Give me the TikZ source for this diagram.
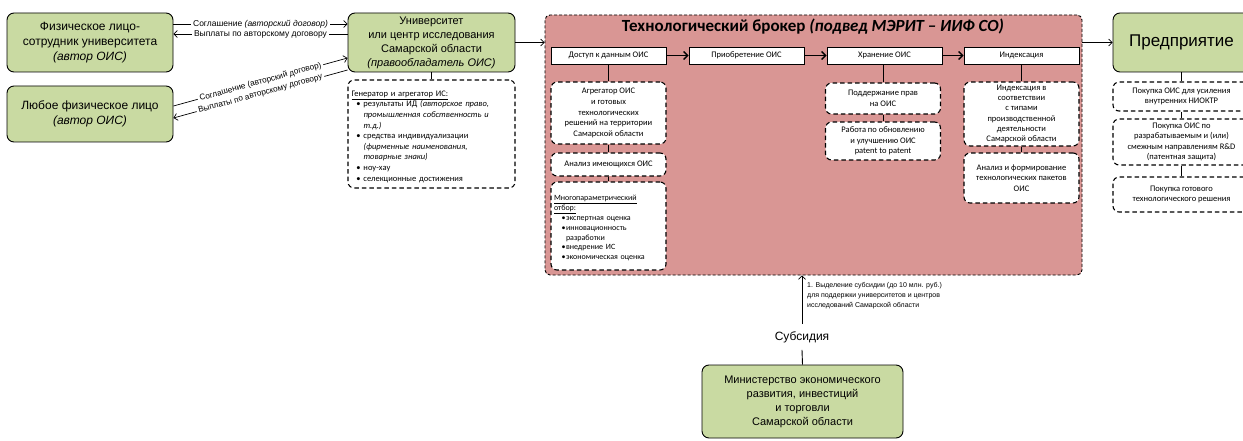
\documentclass[tikz,border=0pt]{standalone}
\usepackage{fontspec}
\setmainfont{Liberation Sans}
\newfontfamily\calfont{Carlito}
\usetikzlibrary{arrows.meta}
\definecolor{grn}{HTML}{C9DAA2}
\definecolor{pnk}{HTML}{D99694}
\newcommand\fs[2]{\fontsize{#1}{#2}\selectfont}
\newcommand\ttl[1]{\par\noindent#1}
\newcommand\bul[3]{\par\noindent\makebox[#1][r]{•\hspace{#2}}#3}
\newcommand\cnt[2]{\par\noindent\hspace*{#1}#2}
\begin{document}
\begin{tikzpicture}[x=1pt,y=-1pt,
  every node/.style={inner sep=0pt},
  greenbox/.style={draw, line width=0.9pt, fill=grn, rounded corners=7pt, align=center, font=\fs{12}{15}},
  dbox/.style={draw, line width=1.1pt, dash pattern=on 4.5pt off 3pt, fill=white, rounded corners=6pt, font=\calfont\fs{8.5}{10.6}, align=center},
  hbox/.style={draw, line width=0.9pt, fill=white, minimum width=115pt, minimum height=17pt, font=\calfont\fs{8.5}{10}},
  conn/.style={line width=0.9pt},
  arr/.style={line width=0.7pt, -{Straight Barb[length=3.5pt,width=7pt,line width=0.7pt]}},
  harr/.style={line width=1.3pt, -{Straight Barb[length=4pt,width=8pt,line width=1.3pt]}},
  lbl/.style={fill=white, font=\fs{8.5}{10}, inner xsep=2pt, inner ysep=0.3pt},
  dlbl/.style={fill=white, font=\fs{8.2}{9}, inner xsep=2pt, inner ysep=0pt},
]
\useasboundingbox (0,0) rectangle (1243,441);
\fill[white] (0,0) rectangle (1243,441);

% left
\node[greenbox, minimum width=166pt, minimum height=59pt] (A) at (90,42.5) {Физическое лицо-\\сотрудник университета\\\textit{(автор ОИС)}};
\node[greenbox, minimum width=166pt, minimum height=56pt] (B) at (90,114) {Любое физическое лицо\\\textit{(автор ОИС)}};
\node[greenbox, minimum width=167pt, minimum height=59pt, font=\fs{11}{14}] (U) at (431.5,42.5) {Университет\\или центр исследования\\Самарской области\\\textit{(правообладатель ОИС)}};
\node[dbox, minimum width=167pt, minimum height=108pt, text width=160pt, align=left] (G) at (431.5,134) {%
\ttl{\underline{Генератор и агрегатор ИС:}}%
\bul{12pt}{3pt}{результаты ИД \textit{(авторское право,}}%
\cnt{12pt}{\textit{промышленная собственность и}}%
\cnt{12pt}{\textit{т.д.)}}%
\bul{12pt}{3pt}{средства индивидуализации}%
\cnt{12pt}{\textit{(фирменные наименования,}}%
\cnt{12pt}{\textit{товарные знаки)}}%
\bul{12pt}{3pt}{ноу-хау}%
\bul{12pt}{3pt}{селекционные достижения}};

% broker
\node[draw, fill=pnk, dash pattern=on 3pt off 2pt, line width=0.9pt, rounded corners=5pt, minimum width=537pt, minimum height=260pt] (bk) at (813.5,145) {};
\node[font=\calfont\bfseries\fs{17}{19}] (T) at (813,27) {Технологический брокер \textit{(подвед МЭРИТ – ИИФ СО)}};
\node[hbox] (H1) at (608.5,55.5) {Доступ к данным ОИС};
\node[hbox] (H2) at (746.5,55.5) {Приобретение ОИС};
\node[hbox] (H3) at (884.5,55.5) {Хранение ОИС};
\node[hbox] (H4) at (1021.5,55.5) {Индексация};

\node[dbox, minimum width=115pt, minimum height=62pt] (C1a) at (608.5,113) {Агрегатор ОИС\\и готовых\\технологических\\решений на территории\\Самарской области};
\node[dbox, minimum width=115pt, minimum height=23pt] (C1b) at (608.5,164.5) {Анализ имеющихся ОИС};
\node[dbox, minimum width=115pt, minimum height=88pt, text width=109pt, align=left, font=\calfont\fs{8}{9.8}] (C1c) at (608.5,226) {%
\ttl{\underline{Многопараметрический}}%
\ttl{\underline{отбор:}}%
\bul{12pt}{0.5pt}{экспертная оценка}%
\bul{12pt}{0.5pt}{инновационность}%
\cnt{12pt}{разработки}%
\bul{12pt}{0.5pt}{внедрение ИС}%
\bul{12pt}{0.5pt}{экономическая оценка}};

\node[dbox, minimum width=115pt, minimum height=31pt] (C3a) at (883,98.5) {Поддержание прав\\на ОИС};
\node[dbox, minimum width=115pt, minimum height=38pt] (C3b) at (883,141) {Работа по обновлению\\и улучшению ОИС\\patent to patent};

\node[dbox, minimum width=115pt, minimum height=64pt, font=\calfont\fs{8.5}{10.3}] (C4a) at (1021.5,114) {Индексация в\\соответствии\\с типами\\производственной\\деятельности\\Самарской области};
\node[dbox, minimum width=115pt, minimum height=50pt] (C4b) at (1021.5,178) {Анализ и формирование\\технологических пакетов\\ОИС};

% right
\node[greenbox, minimum width=137pt, minimum height=59pt, font=\fs{17}{20}] (P) at (1181.5,42.5) {Предприятие};
\node[dbox, minimum width=137pt, minimum height=29pt] (R1) at (1181.5,96.5) {Покупка ОИС для усиления\\внутренних НИОКТР};
\node[dbox, minimum width=137pt, minimum height=46pt] (R2) at (1181.5,142) {Покупка ОИС по\\разрабатываемым и (или)\\смежным направлениям R\&D\\(патентная защита)};
\node[dbox, minimum width=137pt, minimum height=35pt] (R3) at (1181.5,194.5) {Покупка готового\\технологического решения};

% bottom
\node[greenbox, minimum width=201pt, minimum height=73pt, font=\fs{11}{14}] (M) at (802.5,401.5) {Министерство экономического\\развития, инвестиций\\и торговли\\Самарской области};
\node[font=\fs{12}{14}, inner ysep=7pt] (S) at (802,337) {Субсидия};
\node[anchor=north west, align=left, font=\fs{7}{10}] (SL) at (807,282) {1. Выделение субсидии (до 10 млн. руб.)\\для поддержки университетов и центров\\исследований Самарской области};

% connectors left
\draw[arr] ([yshift=18.5pt]A.east) -- ([yshift=18.5pt]U.west) node[midway, lbl] {Соглашение \textit{(авторский договор)}};
\draw[arr] ([yshift=8.5pt]U.west) -- ([yshift=8.5pt]A.east) node[midway, lbl] {Выплаты по авторскому договору};
\draw[arr] ([yshift=8pt]B.east) -- ([yshift=-15.5pt]U.west) node[midway, sloped, dlbl] {Соглашение (авторский договор)};
\draw[arr] ([yshift=-27.5pt]U.west) -- ([yshift=-4pt]B.east) node[midway, sloped, dlbl] {Выплаты по авторскому договору};
\draw[arr] (U.east) -- (bk.west |- U.east);
\draw[conn] (U.south) -- (G.north);

% broker connectors
\draw[harr] (H1.east) -- (H2.west);
\draw[harr] (H2.east) -- (H3.west);
\draw[harr] (H3.east) -- (H4.west);
\draw[conn] (H1.south) -- (C1a.north);
\draw[conn] (C1a.south) -- (C1b.north);
\draw[conn] (C1b.south) -- (C1c.north);
\draw[conn] (C3a.north |- H3.south) -- (C3a.north);
\draw[conn] (C3a.south) -- (C3b.north);
\draw[conn] (H4.south) -- (C4a.north);
\draw[conn] (C4a.south) -- (C4b.north);
\draw[arr] (bk.east |- P.west) -- (P.west);

% right connectors
\draw[conn] (P.south) -- (R1.north);
\draw[conn] (R1.south) -- (R2.north);
\draw[conn] (R2.south) -- (R3.north);

% subsidy
\draw[arr] (S.north) -- (S.north |- bk.south);
\draw[conn] (S.south) -- (M.north);
\end{tikzpicture}
\end{document}
